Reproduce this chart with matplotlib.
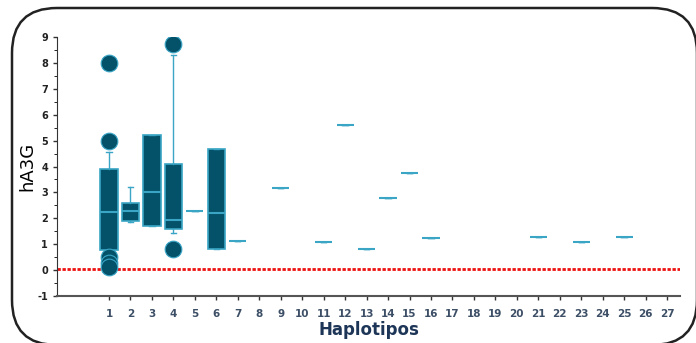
import matplotlib
matplotlib.use('Agg')
import matplotlib.pyplot as plt
from matplotlib.patches import FancyBboxPatch
from matplotlib.ticker import MultipleLocator

plt.rcParams['axes.unicode_minus'] = False

# haplotype positions that have data
positions = [1, 2, 3, 4, 5, 6, 7, 9, 11, 12, 13, 14, 15, 16, 21, 23, 25]
q1 = [0.77, 1.90, 1.70, 1.58, 2.28, 0.81, 1.13, 3.17, 1.09, 5.60, 0.83, 2.78, 3.75, 1.23, 1.28, 1.09, 1.28]
med = [2.24, 2.30, 3.00, 1.93, 2.28, 2.20, 1.13, 3.17, 1.09, 5.60, 0.83, 2.78, 3.75, 1.23, 1.28, 1.09, 1.28]
q3 = [3.90, 2.58, 5.20, 4.10, 2.28, 4.67, 1.13, 3.17, 1.09, 5.60, 0.83, 2.78, 3.75, 1.23, 1.28, 1.09, 1.28]
whislo = [0.77, 1.85, 1.70, 1.45, 2.28, 0.81, 1.13, 3.17, 1.09, 5.60, 0.83, 2.78, 3.75, 1.23, 1.28, 1.09, 1.28]
whishi = [4.55, 3.20, 5.20, 8.30, 2.28, 4.67, 1.13, 3.17, 1.09, 5.60, 0.83, 2.78, 3.75, 1.23, 1.28, 1.09, 1.28]
fliers = [[8.0, 5.0, 0.5, 0.27, 0.12], [], [], [8.73, 0.81]] + [[]] * 13

xticks = list(range(1, 28))
ref_line = 0.05

stats = []
for i in range(len(positions)):
    stats.append(dict(q1=q1[i], med=med[i], q3=q3[i], whislo=whislo[i],
                      whishi=whishi[i], fliers=fliers[i], label=str(positions[i])))

dark = '#03526a'
light = '#3aa5c5'

fig = plt.figure(figsize=(6.96, 3.43), dpi=100)
ax = fig.add_axes([0.082, 0.137, 0.895, 0.755])

ax.axhline(ref_line, color='#ee1111', lw=2, ls=(0, (1.2, 0.6)), zorder=1)

ax.bxp(stats, positions=positions, widths=0.8, patch_artist=True,
       boxprops=dict(facecolor=dark, edgecolor=light, lw=1.2),
       medianprops=dict(color=light, lw=1.5),
       whiskerprops=dict(color=light, lw=1),
       capprops=dict(color=light, lw=1),
       capwidths=0.25,
       flierprops=dict(marker='o', markersize=12, markerfacecolor=dark,
                       markeredgecolor=light, markeredgewidth=0.8),
       manage_ticks=False, zorder=3)

ax.set_xlim(-1.42, 27.6)
ax.set_ylim(-1, 9)
ax.set_xticks(xticks)
ax.set_xticklabels([str(t) for t in xticks], fontsize=7.5, fontweight='bold')
ax.yaxis.set_major_locator(MultipleLocator(1))
ax.yaxis.set_minor_locator(MultipleLocator(0.5))
for lab in ax.get_yticklabels():
    lab.set_fontsize(7)
    lab.set_fontweight('bold')
ax.tick_params(axis='both', length=3, width=1, color='#333333')
ax.tick_params(axis='x', labelcolor='#3d4f66', pad=6)
ax.tick_params(axis='y', labelcolor='#222222')
ax.tick_params(axis='y', which='minor', length=2)

for s in ['top', 'right']:
    ax.spines[s].set_visible(False)
ax.spines['left'].set_color('#333333')
ax.spines['bottom'].set_color('#555555')
ax.spines['bottom'].set_linewidth(1.5)

ax.set_ylabel('hA3G', fontsize=13)
ax.yaxis.set_label_coords(-0.033, 0.5)
ax.set_xlabel('Haplotipos', fontsize=12, fontweight='bold', color='#1d3557', labelpad=2)

frame = FancyBboxPatch((12, -2), 685, 337, boxstyle='round,pad=0,rounding_size=45',
                       transform=None, fill=False, edgecolor='#222222', lw=1.8)
fig.patches.append(frame)

fig.savefig('out.png', dpi=100)
